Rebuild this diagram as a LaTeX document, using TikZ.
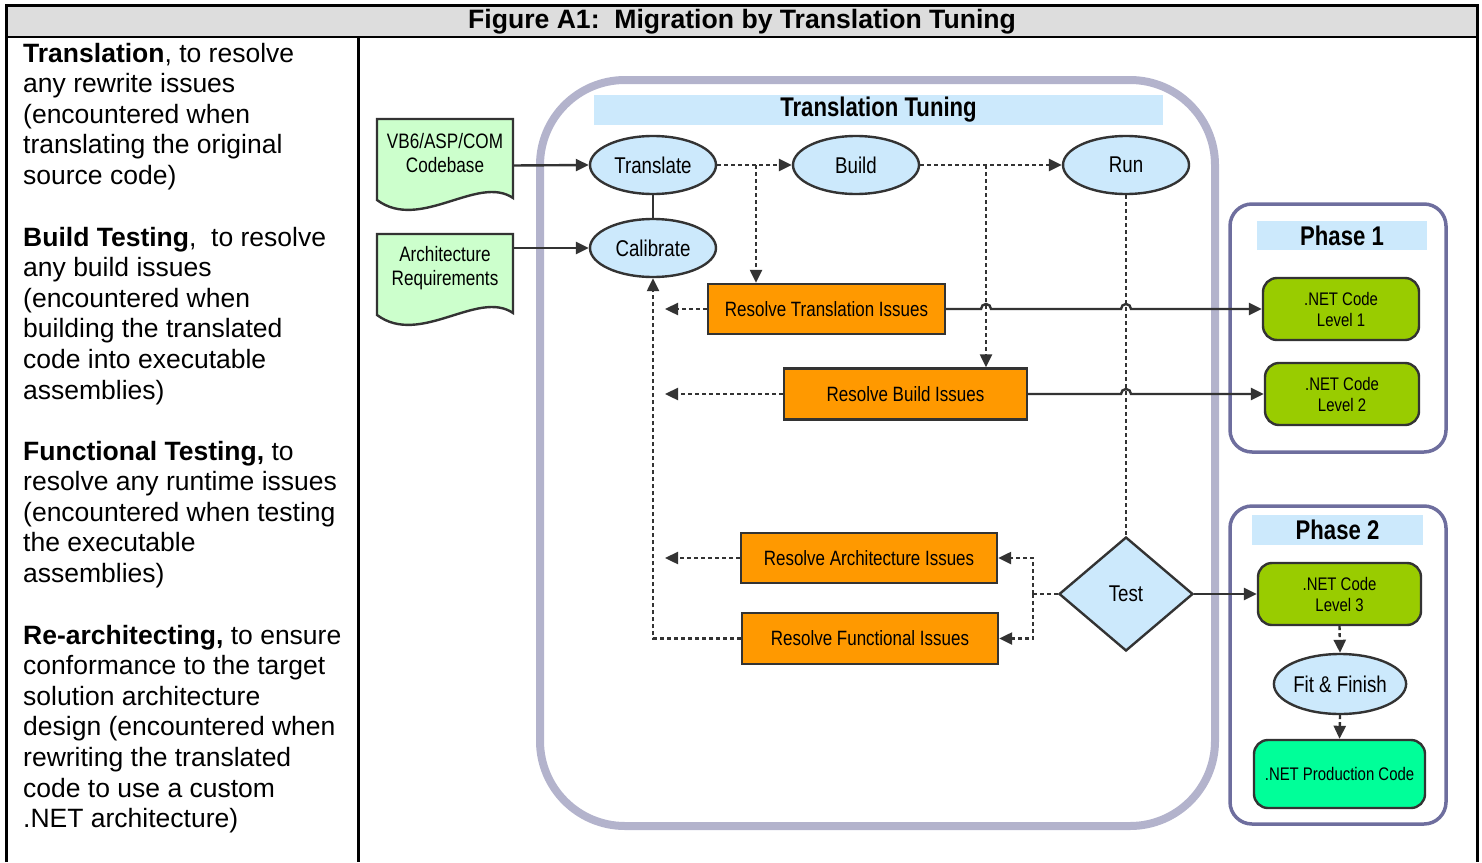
\documentclass[tikz,border=0pt]{standalone}
\usepackage{fontspec}
\setmainfont{Liberation Sans}
\newfontfamily\narrowfont[FakeStretch=0.82]{Liberation Sans}
\usetikzlibrary{shapes.geometric,arrows.meta,calc}
\definecolor{lblue}{HTML}{CCE9FC}
\definecolor{docgreen}{HTML}{CCFFCC}
\definecolor{orangebox}{HTML}{FF9900}
\definecolor{olive}{HTML}{99CC00}
\definecolor{spring}{HTML}{00FF99}
\definecolor{dk}{HTML}{333333}
\definecolor{bigframe}{HTML}{B3B3CC}
\definecolor{phaseframe}{HTML}{6E6E9E}
\definecolor{titlegray}{HTML}{DDDDDD}
\begin{document}
\begin{tikzpicture}[x=1pt,y=-1pt,
  ell/.style={ellipse, draw=dk, fill=lblue, line width=2.4pt, minimum width=126pt, minimum height=58pt, inner sep=0pt, font=\narrowfont\fontsize{22.8}{26}\selectfont},
  issue/.style={rectangle, draw=dk, fill=orangebox, line width=2.4pt, inner sep=0pt, font=\narrowfont\fontsize{20.7}{24}\selectfont},
  codebox/.style={rectangle, rounded corners=14pt, draw=dk, fill=olive, line width=2.4pt, inner sep=0pt, align=center, font=\narrowfont\fontsize{18.2}{21}\selectfont},
  header/.style={rectangle, fill=lblue, inner sep=0pt, font=\narrowfont\bfseries\fontsize{27}{30}\selectfont},
  docshape/.style={draw=dk, fill=docgreen, line width=2.4pt},
  doctext/.style={align=center, inner sep=0pt, font=\narrowfont\fontsize{20.9}{24}\selectfont},
  solidarrow/.style={draw=dk, line width=2.4pt, -{Triangle[length=13pt,width=12pt]}},
  solidline/.style={draw=dk, line width=2.4pt},
  dotline/.style={draw=dk, line width=2.4pt, dash pattern=on 4pt off 3pt},
  dotarrow/.style={dotline, -{Triangle[length=13pt,width=12pt]}},
  leftcol/.style={anchor=base west, inner sep=0pt, font=\fontsize{26.5}{30.6}\selectfont}
]
\useasboundingbox (0,0) rectangle (1482,862);

% ---- table frame ----
\fill[titlegray] (6,5) rectangle (1477,37);
\draw[line width=3pt] (6,862) -- (6,5) -- (1477,5) -- (1477,862);
\draw[line width=2.5pt] (6,37) -- (1477,37);
\draw[line width=3pt] (358,37) -- (358,862);
\node[font=\bfseries\fontsize{26.6}{30}\selectfont, inner sep=0pt] (title) at (742,22) {Figure A1:\ \ Migration by Translation Tuning};

% ---- left column ----
\node[leftcol] (p1) at (23,62) {\begin{tabular}[t]{@{}l@{}}\textbf{Translation}, to resolve\\ any rewrite issues\\ (encountered when\\ translating the original\\ source code)\end{tabular}};
\node[leftcol] (p2) at (23,246) {\begin{tabular}[t]{@{}l@{}}\textbf{Build Testing},\ \ to resolve\\ any build issues\\ (encountered when\\ building the translated\\ code into executable\\ assemblies)\end{tabular}};
\node[leftcol] (p3) at (23,460) {\begin{tabular}[t]{@{}l@{}}\textbf{Functional Testing,} to\\ resolve any runtime issues\\ (encountered when testing\\ the executable\\ assemblies)\end{tabular}};
\node[leftcol] (p4) at (23,644) {\begin{tabular}[t]{@{}l@{}}\textbf{Re-architecting,} to ensure\\ conformance to the target\\ solution architecture\\ design (encountered when\\ rewriting the translated\\ code to use a custom\\ .NET architecture)\end{tabular}};

% ---- frames ----
\draw[bigframe, line width=8pt, rounded corners=85pt] (540,80) rectangle (1215,826);
\draw[phaseframe, line width=3.5pt, rounded corners=22pt] (1230,204) rectangle (1446,452);
\draw[phaseframe, line width=3.5pt, rounded corners=22pt] (1230,506) rectangle (1446,824);

\node[header, minimum width=569pt, minimum height=30pt] (tthead) at (878.5,110) {Translation Tuning};
\node[header, minimum width=170pt, minimum height=29pt] (ph1) at (1342,235.5) {Phase 1};
\node[header, minimum width=171pt, minimum height=30pt] (ph2) at (1337.5,530) {Phase 2};

% ---- documents ----
\draw[docshape] (377,119) -- (513,119) -- (513,198) .. controls (478,174) and (420,232) .. (377,200) -- cycle;
\draw[docshape] (377,234) -- (513,234) -- (513,313) .. controls (478,289) and (420,347) .. (377,315) -- cycle;
\node[minimum width=136pt, minimum height=93pt, inner sep=0pt] (doc1) at (445,165.5) {};
\node[minimum width=136pt, minimum height=93pt, inner sep=0pt] (doc2) at (445,280.5) {};
\node[doctext] (doc1t) at (445,153) {VB6/ASP/COM\\Codebase};
\node[doctext] (doc2t) at (445,268) {Architecture\\Requirements};

% ---- main nodes ----
\node[ell] (translate) at (653,165) {Translate};
\node[ell] (calib) at (653,248) {Calibrate};
\node[ell] (build) at (856,165) {Build};
\node[ell] (run) at (1126,165) {Run};

\node[issue, minimum width=237pt, minimum height=50pt] (rt) at (826.5,309) {Resolve Translation Issues};
\node[issue, minimum width=243pt, minimum height=51pt] (rb) at (905.5,394) {Resolve Build Issues};
\node[issue, minimum width=256pt, minimum height=50pt] (ra) at (869,558) {Resolve Architecture Issues};
\node[issue, minimum width=256pt, minimum height=51pt] (rf) at (870,638.5) {Resolve Functional Issues};

\node[diamond, draw=dk, fill=lblue, line width=2.4pt, minimum width=134pt, minimum height=114pt, inner sep=0pt, font=\narrowfont\fontsize{22.8}{26}\selectfont] (test) at (1126,594) {Test};

\node[codebox, minimum width=156pt, minimum height=62pt] (l1) at (1341,309) {.NET Code\\Level 1};
\node[codebox, minimum width=154pt, minimum height=62pt] (l2) at (1342,394) {.NET Code\\Level 2};
\node[codebox, minimum width=163pt, minimum height=62pt] (l3) at (1339.5,594) {.NET Code\\Level 3};
\node[ell, minimum width=124pt, minimum height=60pt] (fit) at (1340,684) {Fit \& Finish};
\node[codebox, fill=spring, minimum width=171pt, minimum height=68pt] (prod) at (1339.5,774) {.NET Production Code};

% ---- helper coordinates ----
\coordinate (tb) at (756,165);
\coordinate (bb) at (986,165);
\coordinate (lx) at (665,0);
\coordinate (tj) at (1033,594);

% ---- connectors ----
\draw[solidarrow] (doc1.east) -- (translate.west);
\draw[solidarrow] (doc2.east |- calib.west) -- (calib.west);
\draw[solidline] (translate.south) -- (calib.north);

\draw[dotarrow] (translate.east) -- (build.west);
\draw[dotarrow] (build.east) -- (run.west);
\draw[dotarrow] (tb) -- (tb |- rt.north);
\draw[dotarrow] (bb) -- (bb |- rb.north);
\draw[dotline] (run.south) -- (test.north);

\draw[dotarrow] (rt.west) -- (rt.west -| lx);
\draw[dotarrow] (rb.west) -- (rb.west -| lx);
\draw[dotarrow] (ra.west) -- (ra.west -| lx);
\draw[dotarrow] (rf.west) -| (calib.south);

\draw[dotline] (test.west) -- (tj);
\draw[dotarrow] (tj) |- (ra.east);
\draw[dotarrow] (tj) |- (rf.east);

\draw[solidarrow] (rt.east) -- ($(bb |- rt.east)+(-5,0)$) arc[start angle=180, end angle=0, radius=5pt] -- ($(run.south |- rt.east)+(-5,0)$) arc[start angle=180, end angle=0, radius=5pt] -- (l1.west);
\draw[solidarrow] (rb.east) -- ($(run.south |- rb.east)+(-5,0)$) arc[start angle=180, end angle=0, radius=5pt] -- (l2.west);
\draw[solidarrow] (test.east) -- (l3.west);

\draw[dotarrow] (l3.south) -- (fit.north);
\draw[dotarrow] (fit.south) -- (prod.north);
\end{tikzpicture}
\end{document}
